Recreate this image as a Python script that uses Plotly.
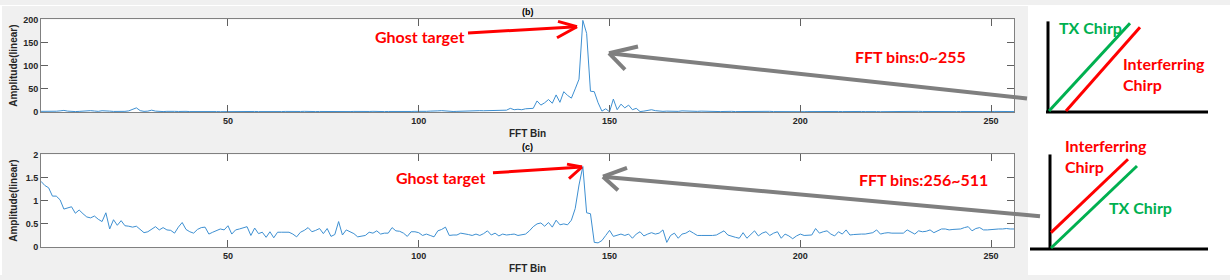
import plotly.graph_objects as go

W, H = 1230, 280

# ---------------- data ----------------
bins = list(range(1, 257))

amp_b = [
    # 1-30
    1.5, 1.2, 1.0, 1.3, 1.8, 2.5, 3.5, 2.0, 1.2, 1.0, 1.4, 2.0, 2.8, 3.0, 2.2,
    1.5, 2.8, 3.0, 2.0, 1.3, 1.0, 1.2, 1.5, 2.5, 6.0, 9.0, 3.0, 1.5, 2.0, 4.0,
    # 31-60
    2.0, 1.2, 1.0, 1.5, 2.0, 1.5, 1.2, 1.8, 1.5, 1.0, 1.2, 1.5, 1.0, 0.8, 1.2,
    1.5, 1.0, 0.8, 1.0, 1.2, 1.0, 0.8, 1.0, 1.3, 1.0, 0.8, 1.2, 1.0, 0.8, 1.0,
    # 61-90
    1.2, 1.0, 0.8, 1.0, 1.3, 1.0, 0.8, 1.0, 1.2, 1.5, 1.0, 0.8, 1.0, 1.2, 1.0,
    1.5, 1.2, 1.0, 0.8, 1.0, 1.2, 1.0, 1.3, 1.0, 0.8, 1.0, 1.2, 1.5, 1.0, 0.8,
    # 91-123
    1.0, 1.2, 1.0, 0.8, 1.0, 1.3, 1.0, 1.2, 1.5, 1.2, 1.0, 1.5, 2.0, 1.5, 2.5,
    3.0, 2.0, 1.5, 1.2, 1.5, 2.0, 2.5, 3.0, 2.8, 2.5, 3.0, 2.8, 3.0, 2.5, 3.0,
    2.8, 3.0, 4.0,
    # 124-158
    8.0, 5.0, 6.0, 5.0, 7.0, 8.0, 8.0, 24.0, 15.0, 20.0, 27.0, 19.0, 37.0, 21.0,
    44.0, 36.0, 30.0, 50.0, 71.0, 198.0, 170.0, 45.0, 44.0, 20.0, 2.0, 7.0, 0.5,
    28.0, 5.0, 17.0, 9.0, 15.0, 5.0, 8.0, 1.0,
    # 159-190
    2.0, 3.0, 5.0, 3.0, 2.0, 1.5, 2.0, 1.5, 1.0, 1.5, 2.5, 2.0, 1.5, 1.2, 1.5,
    2.0, 1.5, 1.0, 1.2, 1.5, 1.0, 1.2, 2.0, 1.5, 1.0, 1.2, 1.5, 1.0, 0.8, 1.2,
    1.5, 1.0,
    # 191-256
    1.2, 1.5, 1.0, 0.8, 1.0, 1.2, 1.5, 1.0, 1.2, 1.0, 0.8, 1.0, 1.2, 1.0, 1.5,
    1.2, 1.0, 0.8, 1.0, 1.2, 1.0, 1.3, 1.0, 0.8, 1.0, 1.2, 1.0, 1.5, 1.2, 1.0,
    0.8, 1.0, 1.2, 1.0, 1.3, 1.0, 0.8, 1.0, 1.2, 1.0, 1.5, 1.2, 1.0, 0.8, 1.0,
    1.2, 1.0, 1.3, 1.0, 0.8, 1.0, 1.2, 1.0, 1.5, 1.2, 1.0, 0.8, 1.0, 1.2, 1.0,
    1.3, 1.0, 0.8, 1.0, 1.2, 1.0,
]

amp_c = [
    # 1-50
    1.42, 1.33, 1.28, 1.10, 1.10, 1.02, 0.82, 0.85, 0.87, 0.73,
    0.80, 0.72, 0.65, 0.63, 0.67, 0.60, 0.55, 0.74, 0.39, 0.59,
    0.47, 0.57, 0.46, 0.45, 0.43, 0.45, 0.38, 0.31, 0.33, 0.38,
    0.44, 0.37, 0.42, 0.37, 0.36, 0.30, 0.43, 0.53, 0.38, 0.33,
    0.30, 0.38, 0.42, 0.43, 0.28, 0.32, 0.35, 0.39, 0.37, 0.46,
    # 51-100
    0.28, 0.37, 0.39, 0.42, 0.44, 0.25, 0.41, 0.29, 0.32, 0.21,
    0.33, 0.20, 0.32, 0.32, 0.32, 0.32, 0.28, 0.22, 0.32, 0.36,
    0.42, 0.33, 0.36, 0.40, 0.29, 0.40, 0.23, 0.27, 0.55, 0.26,
    0.37, 0.33, 0.29, 0.22, 0.24, 0.25, 0.32, 0.30, 0.35, 0.28,
    0.30, 0.30, 0.42, 0.35, 0.34, 0.30, 0.23, 0.33, 0.33, 0.31,
    # 101-150
    0.25, 0.28, 0.25, 0.22, 0.35, 0.38, 0.43, 0.25, 0.26, 0.26,
    0.30, 0.29, 0.27, 0.25, 0.28, 0.25, 0.29, 0.35, 0.26, 0.30,
    0.24, 0.28, 0.26, 0.27, 0.28, 0.25, 0.26, 0.28, 0.35, 0.44,
    0.50, 0.52, 0.45, 0.53, 0.43, 0.58, 0.48, 0.50, 0.48, 0.58,
    0.83, 1.34, 1.74, 0.74, 0.72, 0.10, 0.09, 0.14, 0.25, 0.36,
    # 151-200
    0.23, 0.26, 0.28, 0.25, 0.28, 0.19, 0.28, 0.33, 0.24, 0.28,
    0.31, 0.28, 0.30, 0.37, 0.10, 0.25, 0.30, 0.19, 0.28, 0.30,
    0.35, 0.30, 0.25, 0.25, 0.25, 0.24, 0.25, 0.26, 0.30, 0.35,
    0.26, 0.23, 0.21, 0.19, 0.31, 0.19, 0.28, 0.35, 0.24, 0.30,
    0.33, 0.25, 0.30, 0.33, 0.19, 0.28, 0.24, 0.18, 0.24, 0.28,
    # 201-256
    0.25, 0.26, 0.26, 0.40, 0.30, 0.33, 0.35, 0.28, 0.24, 0.33,
    0.28, 0.37, 0.26, 0.27, 0.28, 0.28, 0.28, 0.30, 0.31, 0.37,
    0.28, 0.30, 0.31, 0.30, 0.30, 0.30, 0.30, 0.37, 0.32, 0.28,
    0.35, 0.33, 0.34, 0.37, 0.31, 0.35, 0.39, 0.39, 0.37, 0.38,
    0.39, 0.39, 0.42, 0.44, 0.35, 0.40, 0.42, 0.37, 0.37, 0.38,
    0.39, 0.39, 0.39, 0.40, 0.39, 0.39,
]

x_ticks = [50, 100, 150, 200, 250]
y_ticks_b = [0, 50, 100, 150, 200]
y_ticks_c = [0, 0.5, 1, 1.5, 2]
y_ticklabels_c = ["0", "0.5", "1", "1.5", "2"]

# ---------------- helpers ----------------
def px(x, y):
    return x / W, 1 - y / H

def seg(x0, y0, x1, y1, color, width):
    a, b = px(x0, y0)
    c, d = px(x1, y1)
    return dict(type="line", xref="paper", yref="paper", x0=a, y0=b, x1=c, y1=d,
                line=dict(color=color, width=width), layer="above")

def rect(x0, y0, x1, y1, color):
    a, b = px(x0, y0)
    c, d = px(x1, y1)
    return dict(type="rect", xref="paper", yref="paper", x0=a, y0=d, x1=c, y1=b,
                fillcolor=color, line=dict(width=0), layer="below")

def label(text, x, y, color, size=16, xanchor="left", weight="bold", family="Lato"):
    a, b = px(x, y)
    return dict(text=text, x=a, y=b, xref="paper", yref="paper", showarrow=False,
                xanchor=xanchor, yanchor="middle",
                font=dict(family=family, size=size, color=color, weight=weight))

RED = "#ff0000"
GREEN = "#00b050"
GRAY = "#7f7f7f"
BLACK = "#000000"
LINE = "#3d8fd1"

fig = go.Figure()
fig.add_trace(go.Scatter(x=bins, y=amp_b, mode="lines", line=dict(color=LINE, width=1),
                         xaxis="x", yaxis="y", showlegend=False, hoverinfo="skip"))
fig.add_trace(go.Scatter(x=bins, y=amp_c, mode="lines", line=dict(color=LINE, width=1),
                         xaxis="x2", yaxis="y2", showlegend=False, hoverinfo="skip"))

xdom = [41 / W, 1014 / W]
top_dom = [1 - 111 / H, 1 - 15 / H]
bot_dom = [1 - 251 / H, 1 - 155 / H]

tickfont = dict(family="Liberation Sans", size=9, color="#262626", weight="bold")
axis_common = dict(showgrid=False, zeroline=False, showline=True, linecolor="#808080",
                   linewidth=1, mirror="ticks", ticks="inside", ticklen=7,
                   tickcolor="#606060", tickfont=tickfont)

fig.update_layout(
    width=W, height=H, margin=dict(l=0, r=0, t=0, b=0),
    paper_bgcolor="#f0f0f0", plot_bgcolor="white",
    xaxis=dict(domain=xdom, anchor="y", range=[1, 256], tickvals=x_ticks, **axis_common),
    yaxis=dict(domain=top_dom, anchor="x", range=[0, 200], tickvals=y_ticks_b, **axis_common),
    xaxis2=dict(domain=xdom, anchor="y2", range=[1, 256], tickvals=x_ticks, **axis_common),
    yaxis2=dict(domain=bot_dom, anchor="x2", range=[0, 2], tickvals=y_ticks_c,
                ticktext=y_ticklabels_c, **axis_common),
)

shapes = []
# white areas outside the MATLAB figure window
shapes += [rect(1028, 0, 1230, 280, "white"), rect(0, 0, 2, 280, "white"), rect(0, 0, 1028, 1, "white")]

# red arrows (Ghost target)
shapes += [seg(468, 29, 577, 22.5, RED, 3), seg(558, 17, 577, 22.5, RED, 3), seg(557, 34, 577, 22.5, RED, 3)]
shapes += [seg(493, 174, 582, 168, RED, 3), seg(567, 165, 582, 168, RED, 3), seg(569, 180, 582, 168, RED, 3)]
# gray arrows
shapes += [seg(1027, 97, 609, 50, GRAY, 4), seg(638, 43, 609, 50, GRAY, 4), seg(625, 67, 609, 50, GRAY, 4)]
shapes += [seg(1040, 219, 603, 178, GRAY, 4), seg(627, 169, 603, 178, GRAY, 4), seg(618, 192, 603, 178, GRAY, 4)]

# chirp diagram (top)
shapes += [seg(1048, 17, 1048, 112, BLACK, 3), seg(1046, 111, 1208, 111, BLACK, 3),
           seg(1049, 110, 1130, 19, GREEN, 3), seg(1066, 110, 1140, 23, RED, 3)]
# chirp diagram (bottom)
shapes += [seg(1050, 155, 1050, 254, BLACK, 3), seg(1030, 253, 1208, 253, BLACK, 3),
           seg(1051, 252, 1137, 167, GREEN, 3), seg(1051, 236, 1128, 160, RED, 3)]

annotations = [
    label("Ghost target", 373, 33, RED),
    label("Ghost target", 394, 179, RED),
    label("FFT bins:0~255", 853, 53, RED),
    label("FFT bins:256~511", 857, 181, RED),
    label("TX Chirp", 1057, 23, GREEN),
    label("Interferring", 1121, 61, RED),
    label("Chirp", 1121, 82, RED),
    label("Interferring", 1063, 146, RED),
    label("Chirp", 1063, 167, RED),
    label("TX Chirp", 1107, 210, GREEN),
    # MATLAB titles / axis labels
    label("(b)", 527.5, 7, "#000000", size=9, xanchor="center", family="Liberation Sans"),
    label("(c)", 527.5, 147, "#000000", size=9, xanchor="center", family="Liberation Sans"),
    label("FFT Bin", 527.5, 133, "#262626", size=10, xanchor="center", family="Liberation Sans"),
    label("FFT Bin", 527.5, 273, "#262626", size=10, xanchor="center", family="Liberation Sans"),
]
for yc in (63, 203):
    a, b = px(14, yc)
    annotations.append(dict(text="Amplitude(linear)", x=a, y=b, xref="paper", yref="paper",
                            showarrow=False, textangle=-90, xanchor="center", yanchor="middle",
                            font=dict(family="Liberation Sans", size=10, color="#262626", weight="bold")))

fig.update_layout(shapes=shapes, annotations=annotations)
fig.write_html("out.html")
